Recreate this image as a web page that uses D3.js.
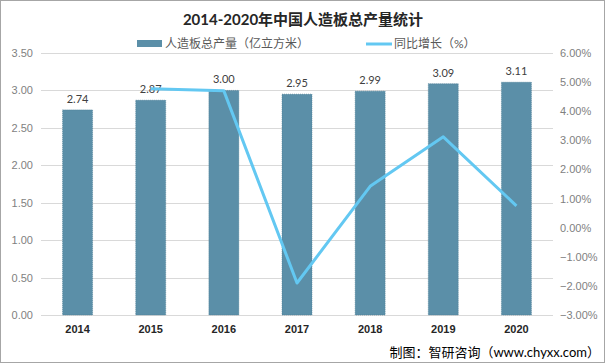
<!DOCTYPE html>
<html><head><meta charset="utf-8">
<script src="https://cdn.jsdelivr.net/npm/d3@7"></script>
<style>
body{margin:0;background:#fff;}
svg{display:block;font-family:Lato,"Noto Sans CJK SC",sans-serif;}
</style></head>
<body><svg id="c" width="606" height="364"></svg>
<script>
const years = ["2014","2015","2016","2017","2018","2019","2020"];
const output = [2.74,2.87,3.00,2.95,2.99,3.09,3.11];
const growthYears = ["2015","2016","2017","2018","2019","2020"];
const growth = [4.77,4.70,-1.9,1.42,3.12,0.75];
const leftTicks = [0,0.5,1,1.5,2,2.5,3,3.5];
const rightTicks = [-3,-2,-1,0,1,2,3,4,5,6];

const svg = d3.select("#c");
const W=606,H=364;
const L=41,R=553,T=53,B=315;
svg.append("rect").attr("x",0.5).attr("y",0.5).attr("width",W-2).attr("height",H-2).attr("fill","#fff").attr("stroke","#a6a6a6");

const x = d3.scaleBand().domain(years).range([L,R]).paddingInner(0.59).paddingOuter(0.295);
const y = d3.scaleLinear().domain([0,3.5]).range([B,T]);
const y2 = d3.scaleLinear().domain([-3,6]).range([B,T]);

// grid
svg.append("g").selectAll("line").data(leftTicks).join("line")
 .attr("x1",L).attr("x2",R).attr("y1",d=>Math.round(y(d))+0.5).attr("y2",d=>Math.round(y(d))+0.5)
 .attr("stroke","#d9d9d9").attr("stroke-width",1);

// left axis
const la = svg.append("g").attr("transform",`translate(${L-8},0)`)
 .call(d3.axisLeft(y).tickValues(leftTicks).tickFormat(d3.format(".2f")).tickSize(0).tickPadding(0));
la.select(".domain").remove();
la.selectAll("text").attr("fill","#7f7f7f").style("font-size","11px");

// right axis
const ra = svg.append("g").attr("transform",`translate(${R+7},0)`)
 .call(d3.axisRight(y2).tickValues(rightTicks).tickFormat(d=>d3.format(".2f")(d)+"%").tickSize(0).tickPadding(0));
ra.select(".domain").remove();
ra.selectAll("text").attr("fill","#7f7f7f").style("font-size","11px");

// bottom axis
const ba = svg.append("g").attr("transform",`translate(0,${B})`)
 .call(d3.axisBottom(x).tickSize(0).tickPadding(10));
ba.select(".domain").remove();
ba.selectAll("text").attr("fill","#262626").style("font-size","11px").style("font-weight","bold");

// bars
svg.append("g").selectAll("rect").data(years).join("rect")
 .attr("x",d=>x(d)).attr("width",x.bandwidth())
 .attr("y",(d,i)=>y(output[i])).attr("height",(d,i)=>y(0)-y(output[i]))
 .attr("fill","#5b8fa8").attr("stroke","#4a7a92").attr("stroke-width",0.6).attr("stroke-dasharray","1,1");

svg.append("g").selectAll("text").data(years).join("text")
 .attr("x",d=>x(d)+x.bandwidth()/2).attr("y",(d,i)=>y(output[i])-7)
 .attr("text-anchor","middle").attr("fill","#404040").style("font-size","11px")
 .text((d,i)=>output[i].toFixed(2));

// line
const line = d3.line().x((d,i)=>x(growthYears[i])+x.bandwidth()/2).y(d=>y2(d));
svg.append("path").datum(growth).attr("d",line).attr("fill","none")
 .attr("stroke","#63c8f2").attr("stroke-width",3).attr("stroke-linejoin","round");

// title
svg.append("text").attr("x",303).attr("y",25).attr("text-anchor","middle")
 .attr("fill","#262626").style("font-size","15px").style("font-weight","bold")
 .text("2014-2020年中国人造板总产量统计");

// legend
const lg = svg.append("g");
lg.append("rect").attr("x",137).attr("y",40).attr("width",25).attr("height",7).attr("fill","#5b8fa8");
lg.append("text").attr("x",165).attr("y",48).attr("fill","#595959").style("font-size","12px").text("人造板总产量（亿立方米）");
lg.append("line").attr("x1",366).attr("x2",392).attr("y1",44).attr("y2",44).attr("stroke","#63c8f2").attr("stroke-width",3);
lg.append("text").attr("x",394).attr("y",48).attr("fill","#595959").style("font-size","12px").text("同比增长（%）");

// source
svg.append("text").attr("x",600).attr("y",357).attr("text-anchor","end")
 .attr("fill","#000").style("font-size","13px").text("制图：智研咨询（www.chyxx.com）");
</script></body></html>
